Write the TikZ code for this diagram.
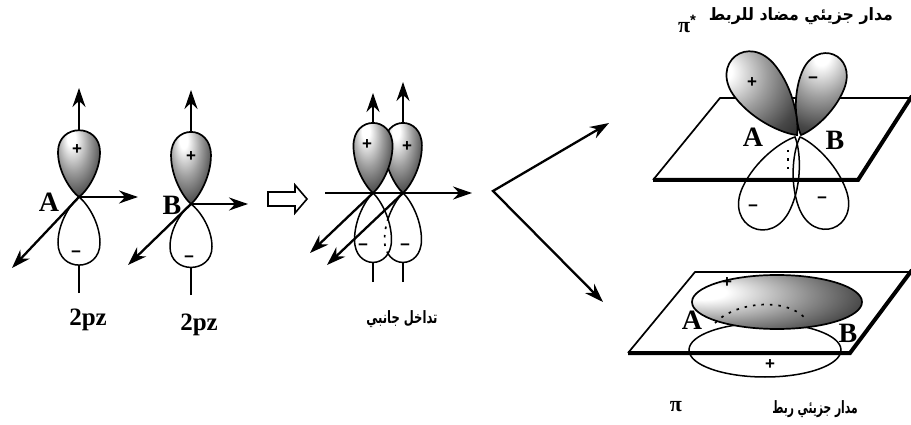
\documentclass[tikz,border=0pt]{standalone}
\usepackage{fontspec}
\setmainfont{Liberation Serif}
\newfontfamily\signfont{Liberation Sans}
\newfontfamily\arabicfont[Script=Arabic]{DejaVu Sans}
\TeXXeTstate=1
\usetikzlibrary{arrows.meta}

% shading of the lobes and of the pi cloud
\pgfdeclareradialshading{lobeshade}{\pgfpoint{-10bp}{16bp}}{color(0bp)=(white); color(5bp)=(white); color(19bp)=(black!38); color(33bp)=(black!72); color(46bp)=(black!90); color(62bp)=(black)}
\pgfdeclareradialshading{cloudshade}{\pgfpoint{-24bp}{10bp}}{color(0bp)=(white); color(7bp)=(white); color(26bp)=(black!45); color(42bp)=(black!80); color(56bp)=(black!95); color(80bp)=(black)}
% one p lobe, tip at the origin, pointing up
\newcommand\lobepath{(0,0) .. controls (-8,-6) and (-21,-25) .. (-21,-45) .. controls (-21,-74) and (21,-74) .. (21,-45) .. controls (21,-25) and (8,-6) .. (0,0) -- cycle}

\begin{document}
\begin{tikzpicture}[x=1pt, y=-1pt,
    axis/.style={line width=2.3pt, -{Stealth[length=19pt,width=13pt]}},
    shadedlobe/.style={draw, line width=1.7pt, shade, shading=lobeshade},
    whitelobe/.style={draw, line width=1.5pt, fill=white},
    emptylobe/.style={draw, line width=1.5pt},
    hidden/.style={line width=1.7pt, dash pattern=on 2.5pt off 6pt},
    planeedge/.style={line width=1.7pt},
    thickedge/.style={line width=4pt},
    sign/.style={font=\signfont\bfseries\fontsize{17}{17}\selectfont},
    atom/.style={font=\bfseries\fontsize{28}{28}\selectfont},
    orb/.style={font=\bfseries\fontsize{25}{25}\selectfont},
    ar/.style={font=\arabicfont\bfseries\fontsize{17}{17}\selectfont}]
  \useasboundingbox (0,0) rectangle (911,425);

  % atom A
  \coordinate (A) at (79,197);
  \coordinate (Abot) at (79,293);
  \coordinate (Atop) at (79,88);
  \coordinate (Ax) at (138,197);
  \coordinate (Ay) at (12,268);
  \draw[axis] (Abot) -- (Atop);
  \path[shadedlobe, shift={(A)}] \lobepath;
  \path[whitelobe, shift={(A)}, rotate=180, yscale=1.02] \lobepath;
  \draw[axis] (A) -- (Ax);
  \draw[axis] (A) -- (Ay);
  \node[atom] (labA) at (49,202) {A};
  \node[sign] (plusA) at (77,150) {+};
  \node[sign] (minusA) at (76,254) {−};
  \node[orb] (pzA) at (88,320) {2pz};

  % atom B
  \coordinate (B) at (191,204);
  \coordinate (Bbot) at (191,295);
  \coordinate (Btop) at (191,90);
  \coordinate (Bx) at (248,204);
  \coordinate (By) at (128,265);
  \draw[axis] (Bbot) -- (Btop);
  \path[shadedlobe, shift={(B)}, xscale=.95, yscale=1.08] \lobepath;
  \path[whitelobe, shift={(B)}, rotate=180, yscale=.95] \lobepath;
  \draw[axis] (B) -- (Bx);
  \draw[axis] (B) -- (By);
  \node[atom] (labB) at (172,205) {B};
  \node[sign] (plusB) at (191,157) {+};
  \node[sign] (minusB) at (189,259) {−};
  \node[orb] (pzB) at (199,325) {2pz};

  % hollow arrow
  \draw[line width=1.6pt] (268,192) -- (295,192) -- (295,185) -- (307,199)
    -- (295,213) -- (295,206) -- (268,206) -- cycle;

  % side overlap
  \coordinate (P) at (373,193);
  \coordinate (Q) at (403,193);
  \coordinate (Pbot) at (373,282);
  \coordinate (Qbot) at (403,282);
  \coordinate (Ptop) at (373,93);
  \coordinate (Qtop) at (403,82);
  \coordinate (Hl) at (325,193);
  \coordinate (Hr) at (472,193);
  \coordinate (Py) at (310,253);
  \coordinate (Qy) at (327,265);
  \draw[axis] (Pbot) -- (Ptop);
  \draw[axis] (Qbot) -- (Qtop);
  \path[shadedlobe, shift={(Q)}, xscale=.9, yscale=1.05] \lobepath;
  \path[shadedlobe, shift={(P)}, xscale=.93, yscale=1.05] \lobepath;
  \path[whitelobe, shift={(Q)}, rotate=180, xscale=.88, yscale=1.04] \lobepath;
  \path[whitelobe, shift={(P)}, rotate=180, xscale=.88, yscale=1.04] \lobepath;
  \begin{scope}
    \clip[shift={(P)}, rotate=180, xscale=.88, yscale=1.04] \lobepath;
    \draw[hidden, shift={(Q)}, rotate=180, xscale=.88, yscale=1.04] \lobepath;
  \end{scope}
  \draw[axis] (Hl) -- (Hr);
  \draw[axis] (P) -- (Py);
  \draw[axis] (Q) -- (Qy);
  \node[sign] (plusP) at (367,145) {+};
  \node[sign] (plusQ) at (407,147) {+};
  \node[sign] (minusP) at (363,247) {−};
  \node[sign] (minusQ) at (405,247) {−};
  \node[ar] (overlap) at (402,319) {\scalebox{.68}[1]{\beginR تداخل جانبي\endR}};

  % the two ways
  \coordinate (V) at (493,191);
  \coordinate (Vup) at (609,123);
  \coordinate (Vdn) at (603,302);
  \draw[line width=2.3pt, {Stealth[length=19pt,width=13pt]}-{Stealth[length=19pt,width=13pt]}] (Vup) -- (V) -- (Vdn);

  % antibonding pi*
  \draw[planeedge] (653,180) -- (720,98) -- (912,98);
  \draw[thickedge] (912,96) -- (858,180) -- (653,180);
  \path[emptylobe, shift={(795,137)}, rotate=155, xscale=1.25, yscale=1.5] \lobepath;
  \path[emptylobe, shift={(800,137)}, rotate=-160, xscale=1.2, yscale=1.45] \lobepath;
  \draw[hidden] (788,150) -- (788,175);
  \path[shadedlobe, shading angle=-22, shift={(801,135)}, rotate=-22, xscale=1.08, yscale=1.3] \lobepath;
  \path[shadedlobe, shading angle=38, shift={(797,135)}, rotate=38, xscale=1.22, yscale=1.5] \lobepath;
  \node[atom] (labAs) at (753,137) {A};
  \node[atom] (labBs) at (835,140) {B};
  \node[sign] (plusS) at (752,83) {+};
  \node[sign] (minusS) at (813,80) {−};
  \node[sign] (minusSl) at (753,208) {−};
  \node[sign] (minusSr) at (822,200) {−};
  \node[ar] (antiname) at (801,16) {\scalebox{.93}[1]{\beginR مدار جزيئي مضاد للربط\endR}};
  \node[font=\bfseries\fontsize{22}{22}\selectfont] (pistar) at (687,24) {π\raisebox{7pt}{\signfont\fontsize{15}{15}\selectfont *}};

  % bonding pi
  \draw[planeedge] (628,353) -- (695,272) -- (912,272);
  \draw[thickedge] (912,270) -- (850,353) -- (628,353);
  \draw[line width=1.5pt] (765,350) ellipse [x radius=76pt, y radius=27pt];
  \path[draw, line width=1.7pt, shade, shading=cloudshade] (777,302) ellipse [x radius=85pt, y radius=27pt];
  \draw[hidden] (715,323) .. controls (735,302) and (785,297) .. (805,318);
  \node[sign] (plusU) at (727,283) {+};
  \node[sign] (plusD) at (770,365) {+};
  \node[atom] (labAp) at (692,320) {A};
  \node[atom] (labBp) at (848,333) {B};
  \node[ar] (bondname) at (815,409) {\scalebox{.63}[1]{\beginR مدار جزيئي ربط\endR}};
  \node[font=\bfseries\fontsize{22}{22}\selectfont] (pi) at (676,407) {π};
\end{tikzpicture}
\end{document}
